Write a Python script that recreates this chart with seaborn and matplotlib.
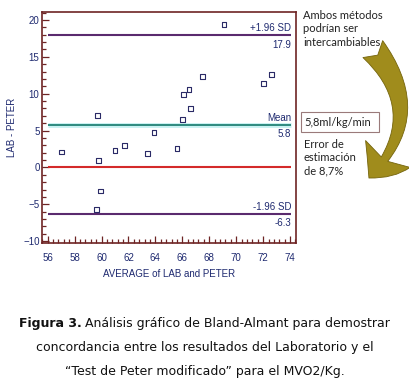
import matplotlib
matplotlib.use("Agg")
import matplotlib.pyplot as plt
import seaborn as sns
import numpy as np
import pandas as pd
from matplotlib.patches import FancyArrowPatch, Rectangle
from matplotlib.ticker import MultipleLocator, AutoMinorLocator

# data
avg_lab_peter = [57.0, 59.7, 59.8, 59.9, 59.6, 61.0, 61.7, 63.4, 63.9,
                 65.6, 66.0, 66.1, 66.5, 66.6, 67.5, 69.1, 72.0, 72.6]
diff_lab_peter = [2.1, 7.1, 1.0, -3.2, -5.65, 2.3, 3.0, 1.85, 4.7,
                  2.55, 6.55, 9.85, 10.6, 8.05, 12.35, 19.35, 11.35, 12.6]
mean_diff = 5.8
upper_loa = 17.9
lower_loa = -6.3
x_ticks = [56, 58, 60, 62, 64, 66, 68, 70, 72, 74]
y_ticks = [-10, -5, 0, 5, 10, 15, 20]

df = pd.DataFrame({"avg": avg_lab_peter, "diff": diff_lab_peter})

sns.set_style("white")
axis_font = ["Liberation Sans Narrow", "Liberation Sans", "DejaVu Sans"]
plt.rcParams["font.family"] = axis_font

navy = "#1f2a70"
maroon = "#6e2424"

fig = plt.figure(figsize=(4.09, 3.84), dpi=100)
ax = fig.add_axes([0.1034, 0.366, 0.6196, 0.602])

# reference lines
ax.hlines(0, 56, 74.1, color="#d42a2a", lw=1.5, zorder=1)
ax.hlines(mean_diff, 56, 74.1, color="#c8f2f2", lw=3.5, zorder=1)
ax.hlines(mean_diff, 56, 74.1, color="#2e8a7e", lw=1.4, zorder=2)
ax.hlines([upper_loa, lower_loa], 56, 74.1, color="#5a2a6e", lw=1.5, zorder=1)

sns.scatterplot(data=df, x="avg", y="diff", marker="s", s=12,
                facecolor="none", edgecolor="#2a2a66", linewidth=0.8,
                ax=ax, zorder=3)

ax.set_xlim(55.6, 74.42)
ax.set_ylim(-10.3, 21.04)
ax.set_xticks(x_ticks)
ax.set_yticks(y_ticks)
ax.xaxis.set_minor_locator(AutoMinorLocator(5))
ax.yaxis.set_minor_locator(AutoMinorLocator(5))
ax.tick_params(which="both", direction="in", color=maroon, width=0.9,
               labelcolor=navy, labelsize=7)
ax.tick_params(which="major", length=5)
ax.tick_params(which="minor", length=3)
ax.tick_params(axis="x", which="both", bottom=True, pad=7)
ax.tick_params(axis="y", which="both", left=True, pad=2)
for s in ax.spines.values():
    s.set_color(maroon)
    s.set_linewidth(1.2)

ax.set_xlabel("AVERAGE of LAB and PETER", color=navy, fontsize=7, labelpad=4)
ax.set_ylabel("LAB - PETER", color=navy, fontsize=7, labelpad=4)

# line labels
lbl = dict(color=navy, fontsize=7, ha="right", textcoords="offset points")
ax.annotate("+1.96 SD", (74.1, upper_loa), xytext=(0, 1.5), va="bottom", **lbl)
ax.annotate(f"{upper_loa}", (74.1, upper_loa), xytext=(0, -3), va="top", **lbl)
ax.annotate("Mean", (74.1, mean_diff), xytext=(0, 1.5), va="bottom", **lbl)
ax.annotate(f"{mean_diff}", (74.1, mean_diff), xytext=(0, -3), va="top", **lbl)
ax.annotate("-1.96 SD", (74.1, lower_loa), xytext=(0, 1.5), va="bottom", **lbl)
ax.annotate(f"{lower_loa}", (74.1, lower_loa), xytext=(0, -3), va="top", **lbl)

# side notes (figure pixel coords -> fractions)
W, H = 409, 384
def fx(px):
    return px / W
def fy(py):
    return 1 - py / H

note_font = ["Lato", "DejaVu Sans"]
fig.text(fx(303), fy(10), "Ambos métodos\npodrían ser\nintercambiables",
         family=note_font, fontsize=8, va="top", ha="left",
         color="#222222", linespacing=1.25)
fig.text(fx(304), fy(139), "Error de\nestimación\nde 8,7%",
         family=note_font, fontsize=8, va="top", ha="left",
         color="#222222", linespacing=1.25)
fig.patches.append(Rectangle((fx(301), fy(132)), fx(379) - fx(301),
                             fy(112) - fy(132), transform=fig.transFigure,
                             fill=False, edgecolor="#9a7a7a", lw=0.8))
fig.text(fx(304), fy(122), "5,8ml/kg/min", family=note_font, fontsize=8,
         va="center", ha="left", color="#222222")

arrow = FancyArrowPatch((fx(371), fy(47)), (fx(367), fy(180)),
                        transform=fig.transFigure,
                        connectionstyle="arc3,rad=-0.47",
                        arrowstyle="fancy,head_length=1.0,head_width=1.7,tail_width=0.85",
                        mutation_scale=22, facecolor="#a08c1c",
                        edgecolor="#74640c", lw=0.6)
fig.patches.append(arrow)

# caption with bold lead
cap_font = ["DejaVu Sans"]
renderer = fig.canvas.get_renderer()
def caption_line(y, parts):
    texts = []
    for txt, weight in parts:
        t = fig.text(0, fy(y), txt, family=cap_font, fontsize=9,
                     fontweight=weight, va="center", ha="left", color="#111111")
        texts.append(t)
    widths = [t.get_window_extent(renderer).width for t in texts]
    x0 = 204.5 - sum(widths) / 2
    for t, w in zip(texts, widths):
        t.set_x(fx(x0))
        x0 += w

caption_line(323, [("Figura 3.", "bold"),
                   (" Análisis gráfico de Bland-Almant para demostrar", "normal")])
caption_line(348, [("concordancia entre los resultados del Laboratorio y el", "normal")])
caption_line(371, [("“Test de Peter modificado” para el MVO2/Kg.", "normal")])

fig.savefig("out.png", dpi=100, facecolor="white")
